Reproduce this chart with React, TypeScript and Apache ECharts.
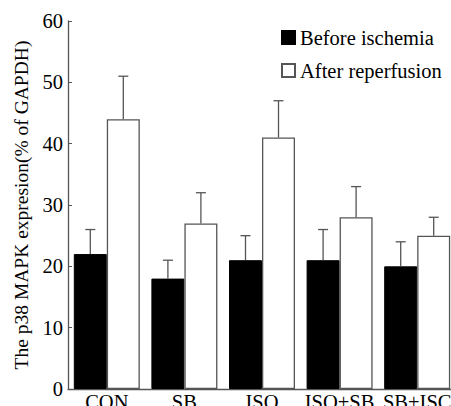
import React, { useEffect, useRef } from "react";
import * as echarts from "echarts";

const categories = ["CON", "SB", "ISO", "ISO+SB", "SB+ISC"];
const beforeValues = [22, 18, 21, 21, 20];
const beforeErrors = [4, 3, 4, 5, 4];
const afterValues = [44, 27, 41, 28, 25];
const afterErrors = [7, 5, 6, 5, 3];
const seriesNames = ["Before ischemia", "After reperfusion"];

const FONT = "Liberation Serif";

export default function App() {
  const ref = useRef<HTMLDivElement>(null);
  useEffect(() => {
    if (!ref.current) return;
    const chart = echarts.init(ref.current, undefined, { renderer: "svg" });
    const BAR_W = 33;
    const makeErr = (vals: number[], errs: number[], side: number) => ({
      type: "custom",
      z: 5,
      silent: true,
      data: vals.map((v, i) => [i, v, v + errs[i]]),
      encode: { x: 0, y: 2 },
      renderItem: (params: any, api: any) => {
        const idx = api.value(0);
        const base = api.coord([idx, api.value(1)]);
        const top = api.coord([idx, api.value(2)]);
        const x = base[0] + side * (BAR_W / 2);
        const cap = 5;
        return {
          type: "group",
          children: [
            { type: "line", shape: { x1: x, y1: base[1], x2: x, y2: top[1] }, style: { stroke: "#555", lineWidth: 1.3 } },
            { type: "line", shape: { x1: x - cap, y1: top[1], x2: x + cap, y2: top[1] }, style: { stroke: "#555", lineWidth: 1.3 } },
          ],
        };
      },
    });
    chart.setOption({
      animation: false,
      backgroundColor: "#fff",
      grid: { left: 68, top: 21, height: 368, width: 388, outerBoundsMode: "none", containLabel: false },
      legend: {
        data: seriesNames,
        orient: "vertical",
        left: 276,
        top: 22,
        itemWidth: 13,
        itemHeight: 13,
        itemGap: 12,
        icon: "rect",
        textStyle: { fontFamily: FONT, fontSize: 20.5, color: "#000" },
      },
      xAxis: {
        type: "category",
        data: categories,
        axisLine: { lineStyle: { color: "#555", width: 1.3 } },
        axisTick: { show: false },
        axisLabel: { fontFamily: FONT, fontSize: 20.5, color: "#000", margin: 2, interval: 0 },
      },
      yAxis: {
        type: "value",
        min: 0,
        max: 60,
        interval: 10,
        name: "The p38 MAPK expresion(% of GAPDH)",
        nameLocation: "middle",
        nameGap: 35,
        nameTextStyle: { fontFamily: FONT, fontSize: 19.5, color: "#000" },
        axisLine: { show: true, lineStyle: { color: "#555", width: 1.3 } },
        axisTick: { show: true, inside: true, length: 4, lineStyle: { color: "#555" } },
        axisLabel: { fontFamily: FONT, fontSize: 20.5, color: "#000", margin: 5 },
        splitLine: { show: false },
      },
      series: [
        {
          name: seriesNames[0],
          type: "bar",
          data: beforeValues,
          barWidth: BAR_W,
          barGap: "0%",
          itemStyle: { color: "#000", borderColor: "#000", borderWidth: 1 },
        },
        {
          name: seriesNames[1],
          type: "bar",
          data: afterValues,
          barWidth: BAR_W,
          barGap: "0%",
          itemStyle: { color: "#fff", borderColor: "#555", borderWidth: 1.3 },
        },
        makeErr(beforeValues, beforeErrors, -1),
        makeErr(afterValues, afterErrors, 1),
      ],
    });
    return () => chart.dispose();
  }, []);
  return <div ref={ref} style={{ width: 451, height: 406, position: "absolute", left: 0, top: 0 }} />;
}
